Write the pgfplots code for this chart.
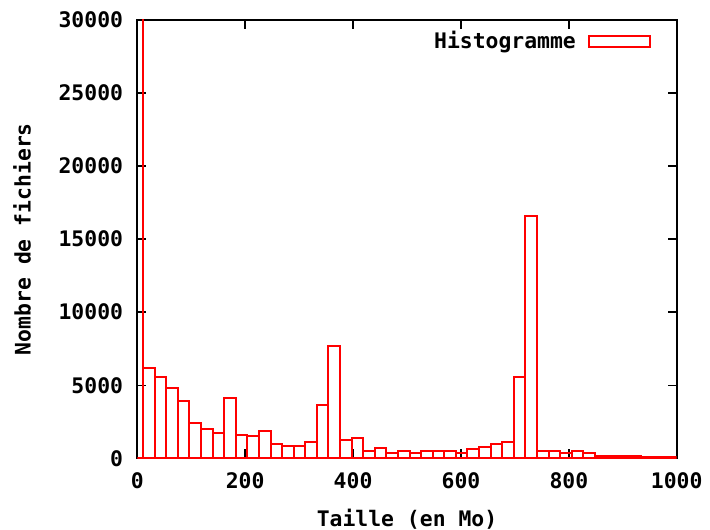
\documentclass[border=0pt]{standalone}
\usepackage{fontspec}
\setmonofont{DejaVu Sans Mono}
\usepackage{pgfplots}
\usepackage{pgfplotstable}
\pgfplotsset{compat=1.18}

% bins of 21.4748 Mo: left edge of each bin and its count (last row closes the last bin)
\pgfplotstableread{
x       n
-10.74  40000
10.74   6200
32.21   5580
53.69   4790
75.16   3900
96.64   2410
118.11  2010
139.59  1750
161.06  4160
182.54  1610
204.01  1500
225.49  1870
246.96  980
268.44  860
289.91  860
311.39  1120
332.86  3670
354.33  7660
375.81  1250
397.28  1390
418.76  480
440.23  730
461.71  340
483.18  500
504.66  340
526.13  500
547.61  500
569.08  500
590.56  340
612.03  640
633.51  750
654.98  990
676.46  1130
697.93  5590
719.41  16580
740.88  480
762.36  480
783.83  340
805.31  500
826.78  340
848.26  180
869.73  180
891.21  180
912.68  180
934.16  80
955.63  80
977.10  80
998.58  80
}\histo

\begin{document}
\begin{tikzpicture}[font=\fontsize{10.7}{12.8}\selectfont\ttfamily\bfseries]
\path[use as bounding box] (-68.65pt,-35.35pt) rectangle (286.35pt,229.15pt);
\begin{axis}[
    scale only axis,
    width=269.7pt, height=219.15pt,
    xmin=0, xmax=1000, ymin=0, ymax=30000,
    xtick={0,200,...,1000},
    ytick={0,5000,...,30000},
    scaled y ticks=false,
    /pgf/number format/1000 sep={},
    /pgf/number format/assume math mode=true,
    tick align=inside,
    major tick length=4.5pt,
    tick style={black, line width=0.7pt},
    axis line style={line width=0.8pt},
    xticklabel style={yshift=-3.7pt},
    yticklabel style={xshift=-3.6pt},
    xlabel={Taille (en Mo)},
    ylabel={Nombre de fichiers},
    every axis x label/.style={at={(axis description cs:0.5,-0.1386)}, anchor=center},
    every axis y label/.style={at={(axis description cs:-0.2136,0.5)}, rotate=90, anchor=center},
    legend plot pos=right,
    legend image code/.code={\path (0pt,0pt); \draw[red, line width=1pt] (4pt,-2.75pt) rectangle (34.5pt,2.75pt);},
    legend style={draw=none, fill=none, at={(axis description cs:0.964,0.994)}, anchor=north east},
  ]
  \addplot[ybar interval, draw=red, fill=none, line width=1pt]
    table[x=x, y=n] {\histo};
  \addlegendentry{Histogramme}
\end{axis}
\end{tikzpicture}
\end{document}
